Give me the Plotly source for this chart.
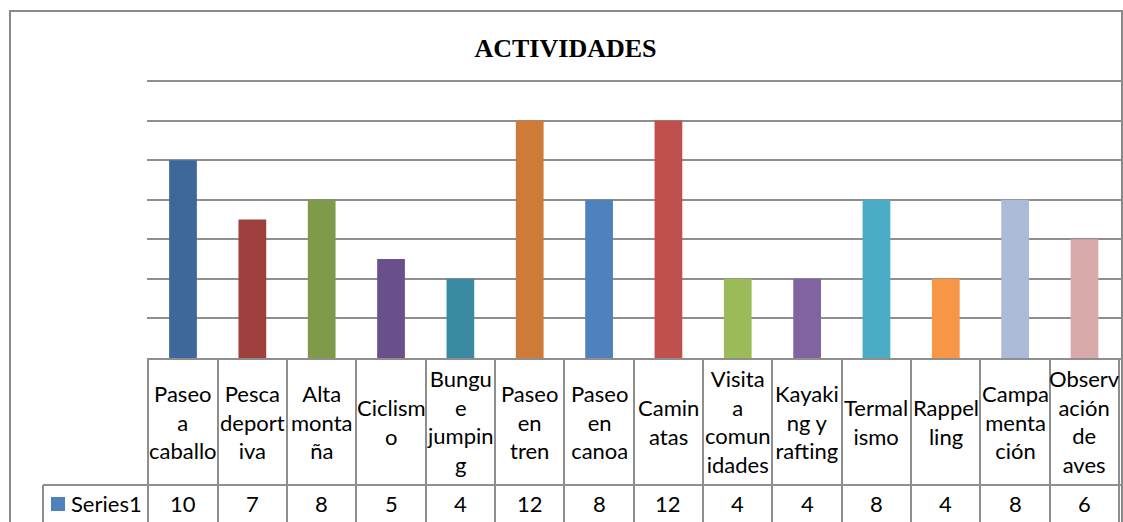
import plotly.graph_objects as go

# ---------------- data ----------------
categories = ["Paseo a caballo", "Pesca deportiva", "Alta montaña", "Ciclismo",
              "Bungue jumping", "Paseo en tren", "Paseo en canoa", "Caminatas",
              "Visita a comunidades", "Kayaking y rafting", "Termalismo",
              "Rappelling", "Campamentación", "Observación de aves"]
header_labels = ["Paseo<br>a<br>caballo", "Pesca<br>deport<br>iva", "Alta<br>monta<br>ña",
                 "Ciclism<br>o", "Bungu<br>e<br>jumpin<br>g", "Paseo<br>en<br>tren",
                 "Paseo<br>en<br>canoa", "Camin<br>atas", "Visita<br>a<br>comun<br>idades",
                 "Kayaki<br>ng y<br>rafting", "Termal<br>ismo", "Rappel<br>ling",
                 "Campa<br>menta<br>ción", "Observ<br>ación<br>de<br>aves"]
values = [10, 7, 8, 5, 4, 12, 8, 12, 4, 4, 8, 4, 8, 6]
series_name = "Series1"
title_text = "ACTIVIDADES"
bar_colors = ["#3F689A", "#A0403E", "#7F9A48", "#69508A", "#3A8BA2", "#CD7B37",
              "#4F81BD", "#C0504D", "#9BBB59", "#8064A2", "#4BACC6", "#F79646",
              "#AABAD7", "#D9AAA9"]
legend_color = "#4F81BD"
y_max = 14.1

# ---------------- layout geometry (pixels) ----------------
FW, FH = 1123, 522
L, R, B = 147, 1122, 358
UNIT = (358 - 81) / 14.0          # pixels per value unit
T = B - UNIT * y_max
W, H = R - L, B - T
GRID = "#8E8E8E"
FONT = "Lato, Carlito, Calibri, sans-serif"


def px_x(p):
    return (p - L) / W


def px_y(p):
    return (B - p) / H


fig = go.Figure()
fig.add_trace(go.Bar(x=categories, y=values, marker=dict(color=bar_colors, line=dict(width=0)),
                     width=0.4, name=series_name, showlegend=False, hoverinfo="x+y"))

shapes = [
    # outer chart border
    dict(type="rect", xref="paper", yref="paper", x0=px_x(10), x1=px_x(1122),
         y0=px_y(600), y1=px_y(11), line=dict(color="#8A8A8A", width=2), layer="below"),
    # data-table row separator
    dict(type="line", xref="paper", yref="paper", x0=px_x(43), x1=1,
         y0=px_y(485), y1=px_y(485), line=dict(color=GRID, width=2)),
    # legend cell left border
    dict(type="line", xref="paper", yref="paper", x0=px_x(43), x1=px_x(43),
         y0=px_y(485), y1=px_y(600), line=dict(color=GRID, width=2)),
    # legend key
    dict(type="rect", xref="paper", yref="paper", x0=px_x(51), x1=px_x(65),
         y0=px_y(511), y1=px_y(497), fillcolor=legend_color, line=dict(width=0)),
]

annotations = []
for cat, lab, v in zip(categories, header_labels, values):
    annotations.append(dict(x=cat, xref="x", y=0, yref="paper", yshift=-(421.5 - B),
                            text=lab, showarrow=False, yanchor="middle", xanchor="center",
                            align="center", font=dict(family=FONT, size=22, color="black")))
    annotations.append(dict(x=cat, xref="x", y=0, yref="paper", yshift=-(503 - B),
                            text=str(v), showarrow=False, yanchor="middle", xanchor="center",
                            font=dict(family=FONT, size=22, color="black")))
annotations.append(dict(x=px_x(69), xref="paper", y=0, yref="paper", yshift=-(503 - B),
                        text=series_name, showarrow=False, yanchor="middle", xanchor="left",
                        font=dict(family=FONT, size=22, color="black")))

fig.update_layout(
    width=FW, height=FH,
    margin=dict(l=L, r=FW - R, t=T, b=FH - B, autoexpand=False),
    paper_bgcolor="white", plot_bgcolor="white",
    title=dict(text="<b>" + title_text + "</b>", x=565.5 / FW, xref="container", xanchor="center",
               y=1 - 48 / FH, yref="container", yanchor="middle",
               font=dict(family="Liberation Serif, Times New Roman, serif", size=26, color="black")),
    xaxis=dict(type="category", showticklabels=False, tickson="boundaries", ticks="outside",
               ticklen=FH - B, tickwidth=2, tickcolor=GRID, showgrid=False, zeroline=False,
               showline=True, linecolor=GRID, linewidth=2, automargin=False, fixedrange=True),
    yaxis=dict(range=[0, y_max], dtick=2, tick0=0, showticklabels=False, showgrid=True,
               gridcolor=GRID, gridwidth=2, zeroline=False, showline=False, ticks="",
               automargin=False, fixedrange=True),
    shapes=shapes,
    annotations=annotations,
    bargap=0.6,
)

fig.write_html("out.html", config={"displayModeBar": False},
               post_script="document.body.style.margin='0';document.body.style.overflow='hidden';")
